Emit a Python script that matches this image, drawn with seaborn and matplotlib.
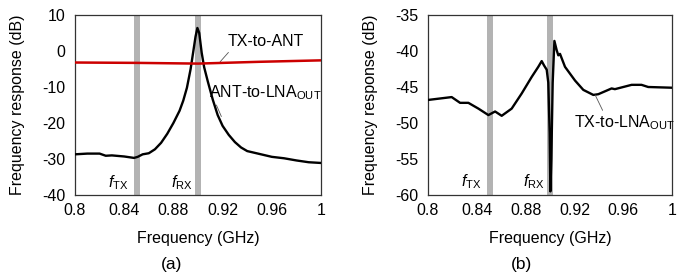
import numpy as np
import pandas as pd
import matplotlib
matplotlib.use("Agg")
import matplotlib.pyplot as plt
import seaborn as sns

# ---- data ----
freq_a_black = [0.800, 0.810, 0.820, 0.825, 0.830, 0.840, 0.848, 0.851, 0.855, 0.860,
                0.865, 0.870, 0.875, 0.880, 0.885, 0.888, 0.891, 0.894, 0.896, 0.898,
                0.8995, 0.901, 0.903, 0.905, 0.908, 0.912, 0.916, 0.920, 0.925, 0.930,
                0.935, 0.940, 0.945, 0.950, 0.955, 0.960, 0.970, 0.980, 0.990, 1.000]
ant_to_lna = [-28.7, -28.5, -28.5, -29.1, -29.0, -29.3, -29.7, -29.4, -28.7, -28.4,
              -27.3, -25.5, -23.0, -20.0, -16.6, -13.8, -10.2, -5.0, -0.5, 4.0,
              6.4, 5.0, -0.5, -4.5, -8.5, -13.5, -17.8, -20.8, -23.3, -25.3,
              -26.8, -27.8, -28.2, -28.6, -29.0, -29.4, -29.8, -30.4, -30.9, -31.1]
freq_a_red = [0.800, 0.850, 0.900, 0.950, 1.000]
tx_to_ant = [-3.2, -3.3, -3.5, -3.0, -2.6]

freq_b = [0.800, 0.8194, 0.8263, 0.8331, 0.8413, 0.8495, 0.855, 0.8604, 0.8686, 0.8768,
          0.885, 0.8904, 0.8932, 0.8951, 0.8973, 0.8986, 0.8997, 0.9003, 0.9011, 0.9022,
          0.9036, 0.9055, 0.9068, 0.9082, 0.9123, 0.9205, 0.9273, 0.9355, 0.9396, 0.9505,
          0.9532, 0.9669, 0.975, 0.9805, 1.000]
tx_to_lna = [-46.8, -46.4, -47.2, -47.2, -48.0, -48.9, -48.4, -49.0, -48.0, -45.9,
             -43.6, -42.2, -41.4, -42.0, -42.6, -44.4, -51.4, -59.5, -55.0, -44.4,
             -38.6, -39.9, -40.6, -40.4, -42.2, -44.1, -45.4, -46.1, -46.0, -45.2,
             -45.3, -44.7, -44.7, -45.0, -45.1]

tx_band = (0.848, 0.853)
rx_band = (0.8975, 0.9025)
xticks = [0.8, 0.84, 0.88, 0.92, 0.96, 1.0]
xticklabels = ["0.8", "0.84", "0.88", "0.92", "0.96", "1"]
yticks_a = [-40, -30, -20, -10, 0, 10]
yticks_b = [-60, -55, -50, -45, -40, -35]

# ---- style ----
sns.set_theme(style="white")
plt.rcParams['font.family'] = ['Liberation Sans', 'DejaVu Sans']
plt.rcParams['text.color'] = 'black'
plt.rcParams['axes.labelcolor'] = 'black'
plt.rcParams['mathtext.fontset'] = 'custom'
plt.rcParams['mathtext.rm'] = 'Liberation Sans'
plt.rcParams['mathtext.it'] = 'Liberation Sans:italic'
FS = 11.5

fig = plt.figure(figsize=(6.91, 2.80), dpi=100)
ax_a = fig.add_axes([75/691, 85/280, 246/691, 180/280])
ax_b = fig.add_axes([428/691, 85/280, 244/691, 180/280])

band_color = "#b3b3b3"

def style_axes(ax, yticks):
    ax.set_xlim(0.8, 1.0)
    ax.set_ylim(yticks[0], yticks[-1])
    ax.set_xticks(xticks)
    ax.set_xticklabels(xticklabels)
    ax.set_yticks(yticks)
    ax.set_yticklabels([str(v) for v in yticks])
    ax.tick_params(direction='in', length=3, width=0.8, colors='#333333',
                   labelcolor='black', labelsize=FS)
    ax.tick_params(axis='y', pad=7)
    ax.tick_params(axis='x', pad=6)
    for s in ax.spines.values():
        s.set_color('#333333')
        s.set_linewidth(0.9)
    ax.axvspan(*tx_band, color=band_color, lw=0, zorder=1)
    ax.axvspan(*rx_band, color=band_color, lw=0, zorder=1)

def label_axes(ax):
    ax.set_xlabel("Frequency (GHz)", fontsize=FS, labelpad=9, color='black')
    ax.set_ylabel("Frequency response (dB)", fontsize=FS, labelpad=12, color='black')

# panel (a)
style_axes(ax_a, yticks_a)
df_red = pd.DataFrame({"f": freq_a_red, "r": tx_to_ant})
df_blk = pd.DataFrame({"f": freq_a_black, "r": ant_to_lna})
sns.lineplot(data=df_blk, x="f", y="r", ax=ax_a, color="black", lw=1.7, zorder=3)
sns.lineplot(data=df_red, x="f", y="r", ax=ax_a, color="#cc0000", lw=1.8, zorder=4)
label_axes(ax_a)

ax_a.annotate("TX-to-ANT", xy=(0.918, -3.0), xytext=(0.955, 2.6),
              fontsize=FS, ha='center', va='center',
              arrowprops=dict(arrowstyle='-', color='#555555', lw=0.6,
                              shrinkA=0, shrinkB=0, relpos=(0.05, 0.0)))
ax_a.annotate(r"ANT-to-LNA$_{\mathrm{OUT}}$", xy=(0.919, -18.2), xytext=(0.955, -11.5),
              fontsize=FS, ha='center', va='center',
              arrowprops=dict(arrowstyle='-', color='#555555', lw=0.6,
                              shrinkA=0, shrinkB=0, relpos=(0.05, 0.0)))
ax_a.text(0.8435, -36.5, r"$\mathit{f}_{\mathrm{TX}}$", fontsize=FS, ha='right', va='center')
ax_a.text(0.8955, -36.5, r"$\mathit{f}_{\mathrm{RX}}$", fontsize=FS, ha='right', va='center')

# panel (b)
style_axes(ax_b, yticks_b)
df_b = pd.DataFrame({"f": freq_b, "r": tx_to_lna})
sns.lineplot(data=df_b, x="f", y="r", ax=ax_b, color="black", lw=1.7, zorder=3)
label_axes(ax_b)
ax_b.annotate(r"TX-to-LNA$_{\mathrm{OUT}}$", xy=(0.937, -46.1), xytext=(0.961, -50.0),
              fontsize=FS, ha='center', va='center',
              arrowprops=dict(arrowstyle='-', color='#555555', lw=0.6,
                              shrinkA=0, shrinkB=0, relpos=(0.3, 1.0)))
ax_b.text(0.8435, -58.2, r"$\mathit{f}_{\mathrm{TX}}$", fontsize=FS, ha='right', va='center')
ax_b.text(0.8955, -58.2, r"$\mathit{f}_{\mathrm{RX}}$", fontsize=FS, ha='right', va='center')

fig.text(172/691, 1 - 265/280, "(a)", fontsize=FS + 1, ha='center', va='center')
fig.text(522/691, 1 - 265/280, "(b)", fontsize=FS + 1, ha='center', va='center')

fig.savefig("out.png", dpi=100)
